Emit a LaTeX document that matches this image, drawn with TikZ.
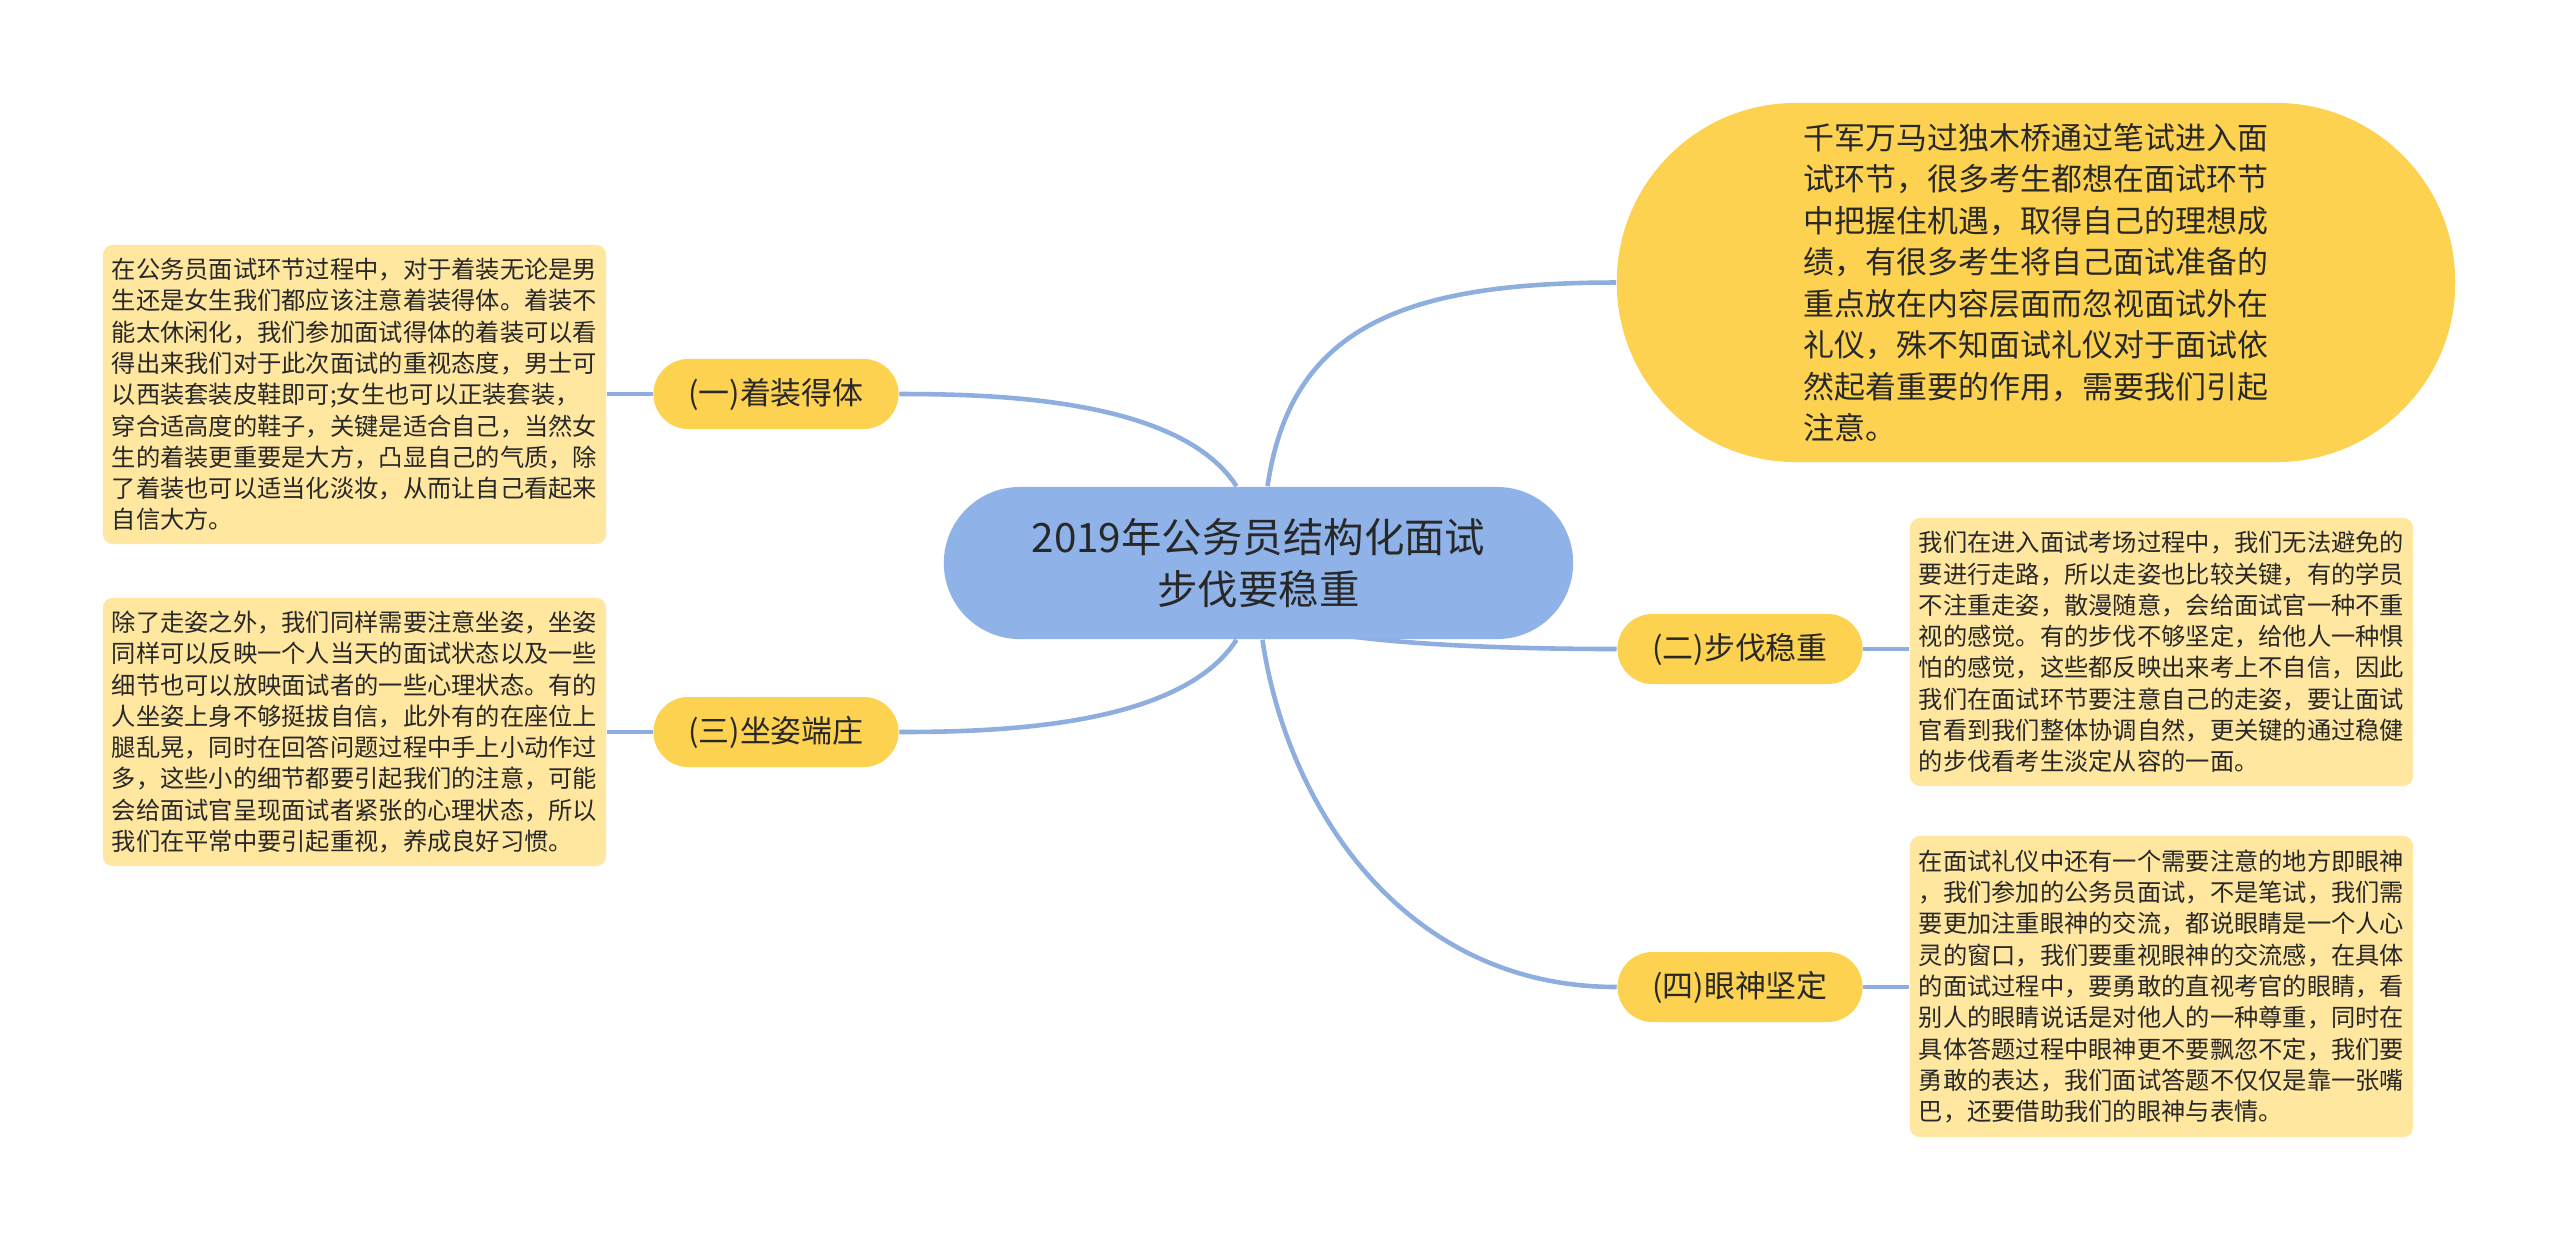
\documentclass[tikz,border=0pt]{standalone}
\usepackage{fontspec}
\setmainfont{Noto Sans CJK SC}
\usetikzlibrary{positioning, backgrounds, calc}
\definecolor{rootblue}{RGB}{143,179,233}
\definecolor{branchgold}{RGB}{252,210,80}
\definecolor{leafcream}{RGB}{255,231,160}
\definecolor{linkblue}{RGB}{142,174,224}
\definecolor{inkdark}{RGB}{40,40,40}
\tikzset{
  rootnode/.style={rectangle, rounded corners=0.76cm, fill=rootblue,
                   align=center, minimum width=6.29cm, minimum height=1.52cm,
                   text=inkdark, font=\fontsize{11.5}{14.8}\selectfont},
  branch/.style={rectangle, rounded corners=0.35cm, fill=branchgold,
                 minimum width=2.45cm, minimum height=0.7cm, inner sep=0pt,
                 text=inkdark, font=\fontsize{8.8}{10}\selectfont},
  bignote/.style={rectangle, rounded corners=1.79cm, fill=branchgold,
                  align=left, minimum width=8.38cm, minimum height=3.59cm,
                  inner sep=0pt, text=inkdark, font=\fontsize{8.8}{11.8}\selectfont},
  leaf/.style={rectangle, rounded corners=0.1cm, fill=leafcream,
               align=left, minimum width=5.03cm, inner sep=0pt,
               text=inkdark, font=\fontsize{6.9}{8.9}\selectfont},
  link/.style={color=linkblue, line width=1.3pt},
}

\begin{document}
\begin{tikzpicture}[x=0.01cm, y=-0.01cm]
  \useasboundingbox (0,0) rectangle (2560,1241);

  % centre
  \node[rootnode] (root) at (1258.5,563) {2019年公务员结构化面试\\步伐要稳重};

  % top right
  \node[bignote] (intro) at (2036,282.5) {千军万马过独木桥通过笔试进入面\\试环节，很多考生都想在面试环节\\中把握住机遇，取得自己的理想成\\绩，有很多考生将自己面试准备的\\重点放在内容层面而忽视面试外在\\礼仪，殊不知面试礼仪对于面试依\\然起着重要的作用，需要我们引起\\注意。};

  % branches
  \node[branch] (dress) at (776,394) {(一)着装得体};
  \node[branch] (sit) at (776,732) {(三)坐姿端庄};
  \node[branch] (gait) at (1740,649) {(二)步伐稳重};
  \node[branch] (eye) at (1740,987) {(四)眼神坚定};

  % notes
  \node[leaf, minimum height=2.99cm] (dressnote) at (354.5,394.5) {在公务员面试环节过程中，对于着装无论是男\\生还是女生我们都应该注意着装得体。着装不\\能太休闲化，我们参加面试得体的着装可以看\\得出来我们对于此次面试的重视态度，男士可\\以西装套装皮鞋即可;女生也可以正装套装，\\穿合适高度的鞋子，关键是适合自己，当然女\\生的着装更重要是大方，凸显自己的气质，除\\了着装也可以适当化淡妆，从而让自己看起来\\自信大方。};
  \node[leaf, minimum height=2.68cm] (sitnote) at (354.5,732) {除了走姿之外，我们同样需要注意坐姿，坐姿\\同样可以反映一个人当天的面试状态以及一些\\细节也可以放映面试者的一些心理状态。有的\\人坐姿上身不够挺拔自信，此外有的在座位上\\腿乱晃，同时在回答问题过程中手上小动作过\\多，这些小的细节都要引起我们的注意，可能\\会给面试官呈现面试者紧张的心理状态，所以\\我们在平常中要引起重视，养成良好习惯。};
  \node[leaf, minimum height=2.68cm] (gaitnote) at (2161.5,652) {我们在进入面试考场过程中，我们无法避免的\\要进行走路，所以走姿也比较关键，有的学员\\不注重走姿，散漫随意，会给面试官一种不重\\视的感觉。有的步伐不够坚定，给他人一种惧\\怕的感觉，这些都反映出来考上不自信，因此\\我们在面试环节要注意自己的走姿，要让面试\\官看到我们整体协调自然，更关键的通过稳健\\的步伐看考生淡定从容的一面。};
  \node[leaf, minimum height=3.01cm] (eyenote) at (2161.5,986.5) {在面试礼仪中还有一个需要注意的地方即眼神\\，我们参加的公务员面试，不是笔试，我们需\\要更加注重眼神的交流，都说眼睛是一个人心\\灵的窗口，我们要重视眼神的交流感，在具体\\的面试过程中，要勇敢的直视考官的眼睛，看\\别人的眼睛说话是对他人的一种尊重，同时在\\具体答题过程中眼神更不要飘忽不定，我们要\\勇敢的表达，我们面试答题不仅仅是靠一张嘴\\巴，还要借助我们的眼神与表情。};

  % links
  \begin{scope}[on background layer]
    \fill[white] (0,0) rectangle (2560,1241);
    \draw[link] ($(root.north)+(-22,0)$) .. controls +(-56,-87) and +(100,0) .. (dress.east);
    \draw[link] ($(root.south)+(-22,0)$) .. controls +(-56,87) and +(100,0) .. (sit.east);
    \draw[link] ($(root.north)+(9,0)$) .. controls +(23,-157) and +(-217,0) .. (intro.west);
    \draw[link] ($(root.south)+(80,-5)$) .. controls +(70,10) and +(-110,0) .. (gait.west);
    \draw[link] ($(root.south)+(4,0)$) .. controls +(23,160) and +(-218,0) .. (eye.west);
    \draw[link] (dress.west) -- (dress.west -| dressnote.east);
    \draw[link] (sit.west) -- (sit.west -| sitnote.east);
    \draw[link] (gait.east) -- (gait.east -| gaitnote.west);
    \draw[link] (eye.east) -- (eye.east -| eyenote.west);
  \end{scope}
\end{tikzpicture}
\end{document}
